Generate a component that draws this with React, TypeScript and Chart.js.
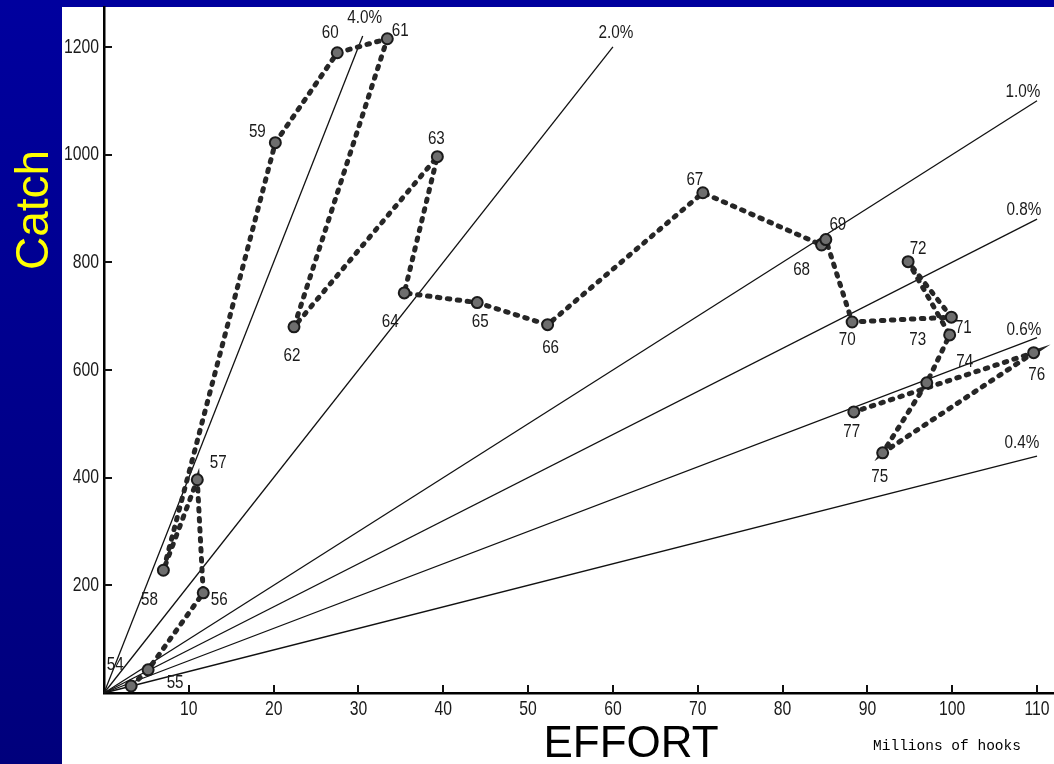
import { useEffect, useRef } from "react";
import { Chart, registerables } from "chart.js";

Chart.register(...registerables);

// Yearly longline record: effort (millions of hooks) vs catch (thousands of fish)
const years = ["54", "55", "56", "57", "58", "59", "60", "61", "62", "63", "64", "65", "66", "67", "68", "69", "70", "71", "72", "73", "74", "75", "76", "77"];
const effort = [3.2, 5.2, 11.7, 11.0, 7.0, 20.2, 27.5, 33.4, 22.4, 39.3, 35.4, 44.0, 52.3, 70.6, 84.6, 85.1, 88.2, 99.9, 94.8, 99.7, 97.0, 91.8, 109.6, 88.4];
const catchK = [13, 43, 186, 396, 228, 1022, 1189, 1215, 680, 996, 743, 725, 684, 929, 832, 842, 689, 698, 801, 665, 576, 446, 632, 522];

// Hook-rate reference lines from the origin
const ratioLabels = ["4.0%", "2.0%", "1.0%", "0.8%", "0.6%", "0.4%"];
const ratioEndEffort = [30.5, 60, 110, 110, 110, 110];
const ratioEndCatch = [1220, 1200, 1100, 880, 660, 440];

const xTickValues = [10, 20, 30, 40, 50, 60, 70, 80, 90, 100, 110];
const yTickValues = [200, 400, 600, 800, 1000, 1200];

// label placement (pixels from the point / line end)
const yearLabelOffsets: [number, number][] = [
  [-16, -21], [27, 13], [16, 7], [21, -17], [-14, 30], [-18, -11], [-7, -20], [13, -8],
  [-2, 29], [-1, -18], [-14, 29], [3, 19], [3, 23], [-8, -13], [-20, 25], [12, -15],
  [-5, 18], [12, 11], [10, -13], [-32, 5], [38, -21], [-3, 24], [3, 22], [-2, 20],
];
const ratioLabelOffsets: [number, number][] = [[2, -18], [3, -14], [-14, -9], [-13, -9], [-13, -8], [-15, -13]];

const SANS = "'Liberation Sans', Arial, sans-serif";
const W = 1054;
const H = 764;

// narrow typewriter-style lettering: squeeze a regular sans horizontally
function narrowText(
  ctx: CanvasRenderingContext2D,
  text: string,
  x: number,
  y: number,
  size: number,
  squeeze: number,
  align: CanvasTextAlign = "center",
) {
  ctx.save();
  ctx.translate(x, y);
  ctx.scale(squeeze, 1);
  ctx.font = `${size}px ${SANS}`;
  ctx.textAlign = align;
  ctx.textBaseline = "middle";
  ctx.fillText(text, 0, 0);
  ctx.restore();
}

const decorPlugin = {
  id: "decor",
  beforeDraw(chart: any) {
    const ctx = chart.ctx as CanvasRenderingContext2D;
    ctx.save();
    const g = ctx.createLinearGradient(0, 0, 0, H);
    g.addColorStop(0, "#00009e");
    g.addColorStop(1, "#00007c");
    ctx.fillStyle = g;
    ctx.fillRect(0, 0, W, H);
    ctx.fillStyle = "#ffffff";
    ctx.fillRect(62, 7, W - 62, H - 7);
    ctx.restore();
  },
  afterDatasetsDraw(chart: any) {
    const ctx = chart.ctx as CanvasRenderingContext2D;
    const xs = chart.scales.x;
    const ys = chart.scales.y;
    ctx.save();
    // inward tick marks
    ctx.strokeStyle = "#111";
    ctx.lineWidth = 2;
    ctx.beginPath();
    for (const t of xs.ticks) {
      const px = Math.round(xs.getPixelForValue(t.value));
      ctx.moveTo(px, ys.bottom);
      ctx.lineTo(px, ys.bottom - 8);
    }
    for (const t of ys.ticks) {
      const py = Math.round(ys.getPixelForValue(t.value));
      ctx.moveTo(xs.left, py);
      ctx.lineTo(xs.left + 8, py);
    }
    ctx.stroke();

    ctx.fillStyle = "#1a1a1a";
    // tick labels from the scales
    for (const t of xs.ticks) {
      narrowText(ctx, String(t.value), xs.getPixelForValue(t.value), ys.bottom + 16, 21, 0.75);
    }
    for (const t of ys.ticks) {
      narrowText(ctx, String(t.value), xs.left - 5, ys.getPixelForValue(t.value), 21, 0.75, "right");
    }
    // year labels
    years.forEach((y, i) => {
      const px = xs.getPixelForValue(effort[i]) + yearLabelOffsets[i][0];
      const py = ys.getPixelForValue(catchK[i]) + yearLabelOffsets[i][1];
      narrowText(ctx, y, px, py, 19, 0.8);
    });
    // rate labels
    ratioLabels.forEach((t, i) => {
      const px = xs.getPixelForValue(ratioEndEffort[i]) + ratioLabelOffsets[i][0];
      const py = ys.getPixelForValue(ratioEndCatch[i]) + ratioLabelOffsets[i][1];
      narrowText(ctx, t, px, py, 18, 0.85);
    });

    // axis titles
    ctx.fillStyle = "#000";
    ctx.textAlign = "center";
    ctx.font = `44px ${SANS}`;
    ctx.textBaseline = "alphabetic";
    ctx.fillText("EFFORT", 631, 757);
    ctx.font = "14.5px 'Liberation Mono', 'DejaVu Sans Mono', monospace";
    ctx.textBaseline = "middle";
    ctx.fillText("Millions of hooks", 947, 746);

    ctx.translate(33, 210);
    ctx.rotate(-Math.PI / 2);
    ctx.fillStyle = "#ffff00";
    ctx.font = `46px ${SANS}`;
    ctx.fillText("Catch", 0, 2);
    ctx.restore();
  },
};

export default function App() {
  const ref = useRef<HTMLCanvasElement | null>(null);

  useEffect(() => {
    if (!ref.current) return;
    const ratioSets = ratioLabels.map((label, i) => ({
      type: "scatter" as const,
      label,
      data: [
        { x: 0, y: 0 },
        { x: ratioEndEffort[i], y: ratioEndCatch[i] },
      ],
      showLine: true,
      borderColor: "#111",
      borderWidth: 1.3,
      pointRadius: 0,
      order: 2,
      clip: false as any,
    }));
    const series = {
      type: "scatter" as const,
      label: "Catch",
      data: effort.map((e, i) => ({ x: e, y: catchK[i] })),
      showLine: true,
      borderColor: "#262626",
      borderWidth: 5,
      borderDash: [2.5, 7.5],
      borderCapStyle: "round" as const,
      pointRadius: 5.5,
      pointBackgroundColor: "#6e6e6e",
      pointBorderColor: "#1a1a1a",
      pointBorderWidth: 2,
      order: 1,
      clip: false as any,
    };

    const chart = new Chart(ref.current, {
      type: "scatter",
      data: { datasets: [...ratioSets, series] as any },
      options: {
        animation: false,
        responsive: false,
        devicePixelRatio: 1,
        layout: { autoPadding: false, padding: { top: 7, right: 0, left: 0, bottom: 0 } },
        plugins: { legend: { display: false }, tooltip: { enabled: false } },
        scales: {
          x: {
            type: "linear",
            min: 0,
            max: 112,
            afterFit: (s: any) => { s.height = 71; s.paddingLeft = 0; s.paddingRight = 0; },
            afterBuildTicks: (s: any) => { s.ticks = xTickValues.map((v) => ({ value: v })); },
            grid: { display: false, drawTicks: false },
            border: { display: true, color: "#000", width: 2.5 },
            ticks: { display: false },
          },
          y: {
            type: "linear",
            min: 0,
            max: 1274,
            afterFit: (s: any) => { s.width = 104; s.paddingTop = 0; s.paddingBottom = 0; },
            afterBuildTicks: (s: any) => { s.ticks = yTickValues.map((v) => ({ value: v })); },
            grid: { display: false, drawTicks: false },
            border: { display: true, color: "#000", width: 2.5 },
            ticks: { display: false },
          },
        },
      },
      plugins: [decorPlugin],
    });
    return () => chart.destroy();
  }, []);

  return (
    <div style={{ position: "absolute", left: 0, top: 0, width: W, height: H }}>
      <canvas ref={ref} width={W} height={H} style={{ width: W, height: H, display: "block" }} />
    </div>
  );
}
